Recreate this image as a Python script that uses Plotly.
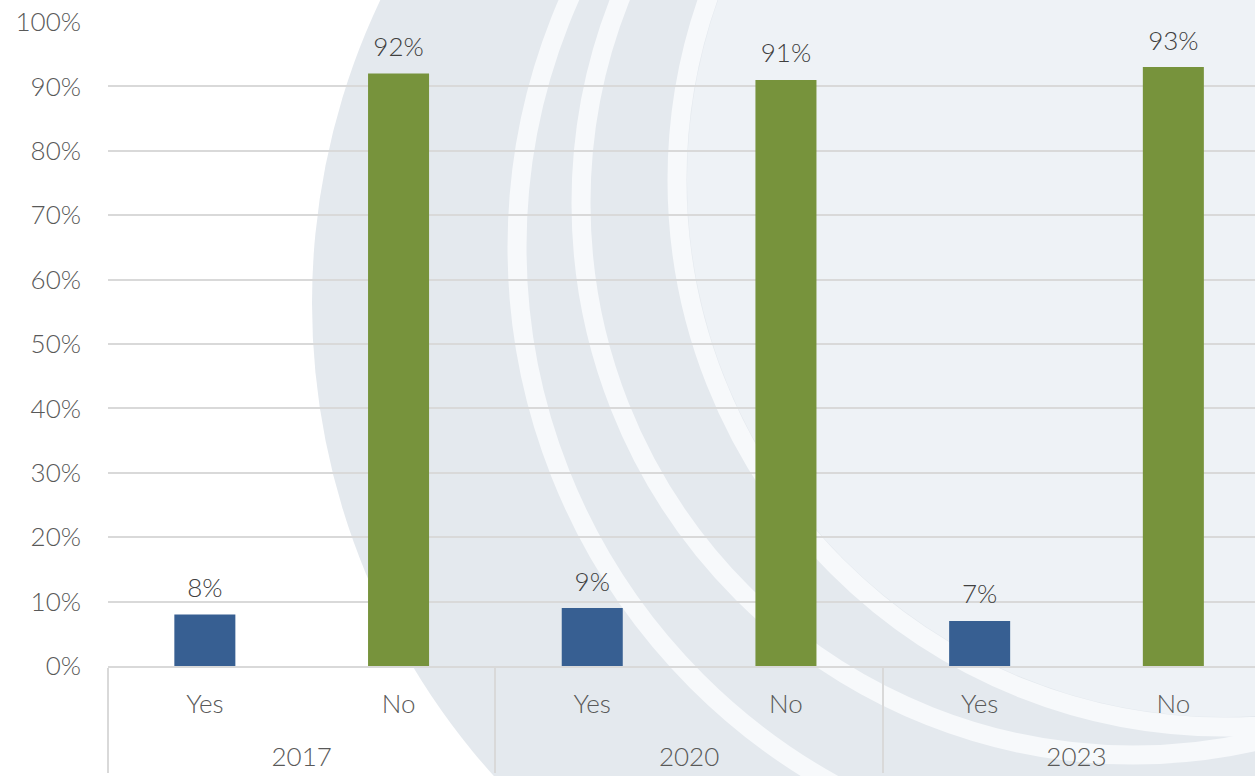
import plotly.graph_objects as go

# Survey answers by wave (share of respondents, %)
years = ["2017", "2017", "2020", "2020", "2023", "2023"]
answers = ["Yes", "No", "Yes", "No", "Yes", "No"]
shares = [8, 92, 9, 91, 7, 93]

answer_colors = {"Yes": "#375F92", "No": "#77933C"}
y_ticks = [0, 10, 20, 30, 40, 50, 60, 70, 80, 90, 100]

W, H = 1255, 776
M_L, M_R, M_T, M_B = 108, 0, 22, 110
PLOT_W = W - M_L - M_R
PLOT_H = H - M_T - M_B
CAT_PX = 193.7  # width of one category slot in pixels

FONT = "Lato"
LABEL_SIZE = 26
AXIS_BASE_SIZE = 17  # line spacing unit for the two-level category labels
TICK_GRAY = "#595959"
GRID = "#D9D9D9"


def px_x(px):
    return (px - M_L) / PLOT_W


def px_y(py):
    return (H - M_B - py) / PLOT_H


def disc(cx, cy, r, **style):
    return dict(type="circle", xref="paper", yref="paper", layer="below",
                x0=px_x(cx - r), x1=px_x(cx + r),
                y0=px_y(cy + r), y1=px_y(cy - r), **style)


def sized(text):
    return f"<span style='font-size:{LABEL_SIZE}px'>{text}</span>"


# Watermark: soft grey disc with pale concentric swooshes
watermark = [
    disc(1018, 303, 706, fillcolor="#E4E9EE", line=dict(width=0)),
    disc(1224, 180, 537, fillcolor="#EEF2F6", line=dict(width=0)),
    disc(1131, 247, 614, fillcolor="rgba(0,0,0,0)", line=dict(color="#F7F9FB", width=19)),
    disc(1133, 203, 552, fillcolor="rgba(0,0,0,0)", line=dict(color="#F7F9FB", width=19)),
    disc(1224, 180, 547, fillcolor="rgba(0,0,0,0)", line=dict(color="#F7F9FB", width=19)),
]

# two-level category labels (answer under the bar, survey year further below)
x_outer = ["\u00a0<br>\u00a0<br>" + sized(y) for y in years]
x_inner = [sized(a) for a in answers]

fig = go.Figure()

fig.add_trace(go.Bar(
    x=[x_outer, x_inner],
    y=shares,
    marker=dict(color=[answer_colors[a] for a in answers], line=dict(width=0)),
    width=0.315,
    hoverinfo="skip",
    showlegend=False,
))

# Value labels sitting above each bar
fig.add_trace(go.Scatter(
    x=[x_outer, x_inner],
    y=shares,
    mode="markers+text",
    marker=dict(size=16, opacity=0),
    text=[f"{v}%" for v in shares],
    textposition="top center",
    textfont=dict(family=FONT, size=LABEL_SIZE, color="#404040", weight=300),
    cliponaxis=False,
    hoverinfo="skip",
    showlegend=False,
))

fig.update_layout(
    width=W, height=H,
    margin=dict(l=M_L, r=M_R, t=M_T, b=M_B, pad=0),
    paper_bgcolor="white",
    plot_bgcolor="rgba(0,0,0,0)",
    font=dict(family=FONT, size=LABEL_SIZE, color=TICK_GRAY, weight=300),
    shapes=watermark,
    showlegend=False,
)

fig.update_xaxes(
    type="multicategory",
    range=[-0.5, -0.5 + PLOT_W / CAT_PX],
    showline=True, linecolor=GRID, linewidth=1.5,
    showgrid=False, ticks="",
    showdividers=True, dividercolor=GRID, dividerwidth=1.5,
    tickfont=dict(family=FONT, size=AXIS_BASE_SIZE, color=TICK_GRAY, weight=300),
    ticklabelstandoff=25,
    automargin=False,
)

fig.update_yaxes(
    range=[0, 100],
    tickvals=y_ticks,
    ticktext=[f"{v}%" for v in y_ticks],
    showgrid=True, gridcolor=GRID, gridwidth=1.5,
    zeroline=False, showline=False, ticks="",
    ticklabelstandoff=26,
    tickfont=dict(family=FONT, size=LABEL_SIZE, color=TICK_GRAY, weight=300),
    automargin=False,
)

fig.write_html("out.html")
